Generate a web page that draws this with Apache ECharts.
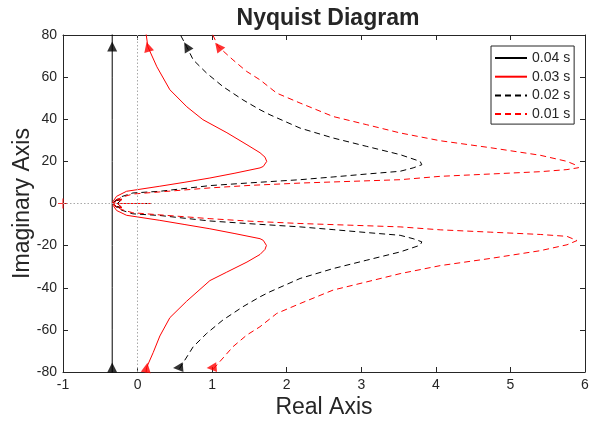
<!DOCTYPE html>
<html>
<head>
<meta charset="utf-8">
<script src="https://cdn.jsdelivr.net/npm/echarts@6/dist/echarts.min.js"></script>
<style>
  html, body { margin: 0; padding: 0; background: #ffffff; }
  #chart { width: 600px; height: 424px; }
</style>
</head>
<body>
<div id="chart"></div>
<script>
// Axis ticks
const realTicks = [-1, 0, 1, 2, 3, 4, 5, 6];
const imagTicks = [-80, -60, -40, -20, 0, 20, 40, 60, 80];

// Legend entries (dead time of each loop)
const delayNames = ['0.04 s', '0.03 s', '0.02 s', '0.01 s'];

// Nyquist curves, [Re, Im]. Upper half listed from the top edge in to the origin,
// lower half listed from the bottom edge in to the origin.
const upper004 = [[-0.34, 84], [-0.34, 60], [-0.34, 40], [-0.34, 20], [-0.34, 5], [-0.34, 0],
  [-0.29, -1.4], [-0.21, -2.0], [-0.27, 0], [0.19, 0]];
const lower004 = [[-0.34, -84], [-0.34, -60], [-0.34, -40], [-0.34, -20], [-0.34, -5], [-0.34, 0],
  [-0.29, 1.4], [-0.21, 2.0], [-0.27, 0], [0.19, 0]];

const upper003 = [[0.105, 83], [0.138, 74.4], [0.259, 64.9], [0.433, 54.0], [0.661, 45.9], [0.876, 39.8],
  [1.198, 33.6], [1.467, 27.9], [1.642, 24.1], [1.709, 22.0], [1.732, 20.0], [1.686, 17.6], [1.642, 16.9],
  [1.306, 14.4], [0.970, 12.1], [0.635, 10.1], [0.299, 8.2], [-0.148, 5.8], [-0.282, 3.4], [-0.328, 1.0],
  [-0.335, 0], [-0.29, -1.4], [-0.21, -2.0], [-0.27, 0], [0.19, 0]];
const lower003 = [[0.105, -83], [0.121, -77.9], [0.209, -70.8], [0.299, -62.9], [0.433, -54.2], [0.658, -46.4],
  [0.970, -36.6], [1.195, -32.6], [1.467, -27.8], [1.642, -24.2], [1.709, -21.8], [1.728, -19.9], [1.686, -17.5],
  [1.642, -16.7], [1.306, -14.3], [0.970, -12.0], [0.635, -10.0], [0.299, -8.0], [-0.148, -5.6], [-0.282, -3.3],
  [-0.327, -0.9], [-0.335, 0], [-0.29, 1.4], [-0.21, 2.0], [-0.27, 0], [0.19, 0]];

const upper002 = [[0.53, 83], [0.658, 74.5], [0.746, 68.2], [0.926, 61.9], [1.145, 55.5], [1.413, 49.2],
  [1.642, 44.5], [1.776, 42.1], [2.179, 35.8], [2.622, 31.1], [3.074, 27.1], [3.521, 23.2], [3.789, 20.0],
  [3.812, 18.4], [3.695, 16.9], [3.521, 15.3], [3.074, 14.0], [2.622, 12.6], [2.179, 11.3], [1.508, 9.8],
  [0.970, 8.5], [0.299, 5.8], [-0.063, 5.0], [-0.211, 3.3], [-0.30, 1.4], [-0.335, 0], [-0.29, -1.4],
  [-0.21, -2.0], [-0.27, 0], [0.19, 0]];
const lower002 = [[0.53, -83], [0.543, -79.5], [0.746, -68.0], [0.926, -61.7], [1.145, -55.3], [1.413, -49.0],
  [1.642, -44.3], [1.776, -41.9], [2.179, -35.6], [2.622, -30.9], [3.074, -26.9], [3.521, -23.0], [3.789, -19.8],
  [3.812, -18.2], [3.695, -16.7], [3.521, -15.1], [3.074, -13.8], [2.622, -12.4], [2.179, -11.1], [1.508, -9.6],
  [0.970, -8.3], [0.299, -5.7], [-0.063, -4.9], [-0.211, -3.2], [-0.30, -1.3], [-0.335, 0], [-0.29, 1.4],
  [-0.21, 2.0], [-0.27, 0], [0.19, 0]];

const upper001 = [[0.97, 83], [1.082, 74.5], [1.279, 68.2], [1.463, 62.7], [1.642, 58.7], [1.866, 52.4],
  [2.179, 47.7], [2.622, 41.3], [3.074, 37.4], [3.521, 33.5], [4.058, 29.8], [4.729, 26.5], [5.400, 22.9],
  [5.758, 20.0], [5.893, 18.0], [5.914, 17.0], [5.758, 16.1], [5.400, 15.1], [4.729, 14.0], [4.058, 12.9],
  [3.521, 11.3], [2.850, 10.5], [2.179, 9.7], [1.508, 8.6], [0.970, 7.4], [0.299, 5.5], [-0.063, 4.5],
  [-0.211, 3.0], [-0.30, 1.3], [-0.335, 0], [-0.29, -1.4], [-0.21, -2.0], [-0.27, 0], [0.19, 0]];
const lower001 = [[0.97, -83], [0.993, -79.5], [1.279, -68.0], [1.463, -62.5], [1.642, -58.5], [1.866, -52.2],
  [2.179, -47.5], [2.622, -41.1], [3.074, -37.2], [3.521, -33.3], [4.058, -29.5], [4.729, -26.1], [5.400, -22.4],
  [5.758, -19.6], [5.893, -17.6], [5.914, -16.8], [5.758, -15.6], [5.400, -14.7], [4.729, -13.6], [4.058, -12.5],
  [3.521, -11.1], [2.850, -10.3], [2.179, -9.5], [1.508, -8.4], [0.970, -7.2], [0.299, -5.4], [-0.063, -4.4],
  [-0.211, -2.9], [-0.30, -1.2], [-0.335, 0], [-0.29, 1.4], [-0.21, 2.0], [-0.27, 0], [0.19, 0]];

// Direction arrows sitting on the curves
const arrowsBlack = [[-0.34, 74.5], [-0.34, -77.9], [0.658, 74.5], [0.543, -77.9]];
const arrowsRed = [[0.138, 74.4], [0.121, -77.9], [1.082, 74.5], [0.993, -77.9]];

// Critical point -1 + j0
const criticalPoint = [[-1, 0]];

const FONT = '"Liberation Sans", Arial, Helvetica, sans-serif';
const AXIS_COLOR = '#262626';
const BLACK = '#000000';
const RED = '#ff0000';

// Each closed curve: lower half (bottom -> origin) then upper half (origin -> top)
function closedCurve(lower, upper) {
  return lower.concat(upper.slice().reverse());
}

const curveHalves = [[lower004, upper004], [lower003, upper003], [lower002, upper002], [lower001, upper001]];
const curveColors = [BLACK, RED, BLACK, RED];
const curveTypes = ['solid', 'solid', [6, 4], [6, 4]];

const chart = echarts.init(document.getElementById('chart'), null, { renderer: 'canvas' });

const xMin = realTicks[0], xMax = realTicks[realTicks.length - 1];
const yMin = imagTicks[0], yMax = imagTicks[imagTicks.length - 1];

function valueAxis(base) {
  return Object.assign({
    type: 'value',
    axisLine: { show: true, onZero: false, lineStyle: { color: AXIS_COLOR, width: 1 } },
    axisTick: { show: true, inside: true, length: 5, lineStyle: { color: AXIS_COLOR, width: 1 } },
    splitLine: { show: false },
  }, base);
}

const series = [];

// dotted zero lines
series.push({
  type: 'line',
  data: [],
  silent: true,
  markLine: {
    silent: true,
    symbol: 'none',
    label: { show: false },
    lineStyle: { color: '#a8a8a8', type: [1.5, 2], width: 1 },
    data: [{ xAxis: 0 }, { yAxis: 0 }]
  }
});

curveHalves.forEach((halves, i) => {
  series.push({
    name: delayNames[i],
    type: 'line',
    data: closedCurve(halves[0], halves[1]),
    showSymbol: false,
    symbol: 'none',
    smooth: false,
    clip: true,
    lineStyle: { color: curveColors[i], width: 1, type: curveTypes[i] },
    itemStyle: { color: curveColors[i] },
    emphasis: { disabled: true },
    z: 3
  });
});

// arrow heads: rotation follows each curve's direction
const blackTurns = [0, 0, 30, 95];
const redTurns = [15, -10, 38, 95];
const arrowShape = 'path://M5,0L10,11L0,11Z';
series.push({
  type: 'scatter',
  data: arrowsBlack.map((p, i) => ({ value: p, symbolRotate: blackTurns[i] })),
  symbol: arrowShape,
  symbolSize: [10, 10],
  itemStyle: { color: BLACK },
  clip: false,
  silent: true,
  z: 4
});
series.push({
  type: 'scatter',
  data: arrowsRed.map((p, i) => ({ value: p, symbolRotate: redTurns[i] })),
  symbol: arrowShape,
  symbolSize: [10, 10],
  itemStyle: { color: RED },
  clip: false,
  silent: true,
  z: 4
});
series.push({
  type: 'scatter',
  data: criticalPoint,
  symbol: 'path://M0,5L10,5M5,0L5,10',
  symbolSize: 10,
  itemStyle: { color: 'none', borderColor: RED, borderWidth: 1.2 },
  clip: false,
  silent: true,
  z: 4
});

chart.setOption({
  animation: false,
  backgroundColor: '#ffffff',
  textStyle: { fontFamily: FONT },
  title: {
    text: 'Nyquist Diagram',
    left: 323,
    textAlign: 'center',
    top: 2,
    textStyle: { fontFamily: FONT, fontSize: 23, fontWeight: 'bold', color: AXIS_COLOR }
  },
  grid: { left: 63, right: 15, top: 35, bottom: 52, containLabel: false, outerBoundsMode: 'none' },
  legend: {
    data: delayNames,
    orient: 'vertical',
    left: 491,
    top: 46,
    padding: [5, 4, 3, 3],
    itemGap: 4.7,
    itemWidth: 32,
    itemHeight: 14,
    itemStyle: { opacity: 0 },
    borderColor: AXIS_COLOR,
    borderWidth: 1,
    borderRadius: 0,
    backgroundColor: '#ffffff',
    textStyle: { fontFamily: FONT, fontSize: 14, color: AXIS_COLOR },
    selectedMode: false
  },
  xAxis: [
    valueAxis({
      min: xMin, max: xMax, interval: 1, position: 'bottom',
      name: 'Real Axis', nameLocation: 'middle', nameGap: 24, nameMoveOverlap: false,
      nameTextStyle: { fontFamily: FONT, fontSize: 23, color: AXIS_COLOR },
      axisLabel: { show: true, margin: 6, fontFamily: FONT, fontSize: 14, color: AXIS_COLOR }
    }),
    valueAxis({
      min: xMin, max: xMax, interval: 1, position: 'top',
      axisLabel: { show: false }
    })
  ],
  yAxis: [
    valueAxis({
      min: yMin, max: yMax, interval: 20, position: 'left',
      name: 'Imaginary Axis', nameLocation: 'middle', nameGap: 29, nameRotate: 90, nameMoveOverlap: false,
      nameTextStyle: { fontFamily: FONT, fontSize: 23, color: AXIS_COLOR },
      axisLabel: { show: true, margin: 6, fontFamily: FONT, fontSize: 14, color: AXIS_COLOR }
    }),
    valueAxis({
      min: yMin, max: yMax, interval: 20, position: 'right',
      axisLabel: { show: false }
    })
  ],
  series: series
});
</script>
</body>
</html>
